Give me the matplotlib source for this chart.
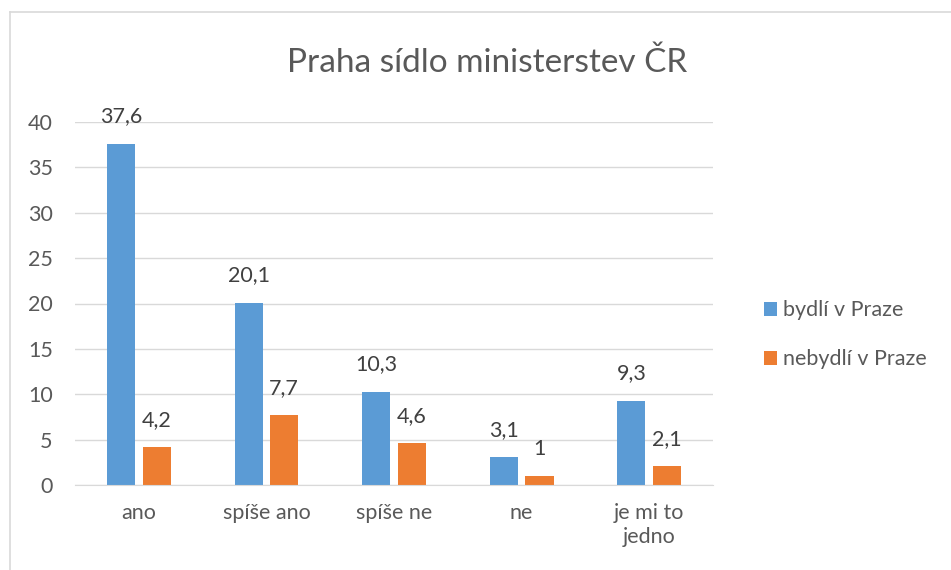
import matplotlib.pyplot as plt
import numpy as np

categories = ["ano", "spíše ano", "spíše ne", "ne", "je mi to\njedno"]
bydli = [37.6, 20.1, 10.3, 3.1, 9.3]
nebydli = [4.2, 7.7, 4.6, 1, 2.1]
labels_bydli = ["37,6", "20,1", "10,3", "3,1", "9,3"]
labels_nebydli = ["4,2", "7,7", "4,6", "1", "2,1"]
series_names = ["bydlí v Praze", "nebydlí v Praze"]

plt.rcParams['font.family'] = ['Lato', 'DejaVu Sans']

fig = plt.figure(figsize=(9.51, 5.7), dpi=100)
W, H = 951, 570

# chart border (only left and top visible in the crop)
fig.add_artist(plt.Line2D([10 / W, 10 / W], [0, 1 - 12 / H], color='#d9d9d9', lw=1.2))
fig.add_artist(plt.Line2D([10 / W, 1], [1 - 12 / H, 1 - 12 / H], color='#d9d9d9', lw=1.2))

ax = fig.add_axes([75 / W, 1 - 485 / H, 638 / W, 363 / H])

x = np.arange(len(categories))
bw = 0.22
gap = 0.03
b1 = ax.bar(x - bw / 2 - gap, bydli, bw, color='#5b9bd5', label=series_names[0])
b2 = ax.bar(x + bw / 2 + gap, nebydli, bw, color='#ed7d31', label=series_names[1])

for rect, lab in zip(b1, labels_bydli):
    ax.text(rect.get_x() + rect.get_width() / 2, rect.get_height() + 1.9, lab,
            ha='center', va='bottom', fontsize=15.5, color='#404040')
for rect, lab in zip(b2, labels_nebydli):
    ax.text(rect.get_x() + rect.get_width() / 2, rect.get_height() + 1.9, lab,
            ha='center', va='bottom', fontsize=15.5, color='#404040')

ax.set_xlim(-0.5, len(categories) - 0.5)
ax.set_ylim(0, 40)
ax.set_yticks(range(0, 41, 5))
ax.set_xticks(x)
ax.set_xticklabels(categories, linespacing=1.25)
ax.tick_params(axis='both', length=0, labelsize=15.5, labelcolor='#595959')
ax.tick_params(axis='y', pad=16)
ax.tick_params(axis='x', pad=13)
ax.grid(axis='y', color='#d9d9d9', lw=1)
ax.set_axisbelow(True)
for s in ['top', 'right', 'left']:
    ax.spines[s].set_visible(False)
ax.spines['bottom'].set_color('#d9d9d9')

fig.text(487 / W, 1 - 63 / H, "Praha sídlo ministerstev ČR", ha='center', va='center',
         fontsize=24, color='#595959')

leg = fig.legend(handles=[b1, b2], loc='upper left', bbox_to_anchor=(745 / W, 1 - 281 / H),
                 frameon=False, fontsize=15.5, labelcolor='#595959', handlelength=0.6,
                 handleheight=0.6, handletextpad=0.25, labelspacing=1.35)

fig.savefig("out.png", dpi=100)
